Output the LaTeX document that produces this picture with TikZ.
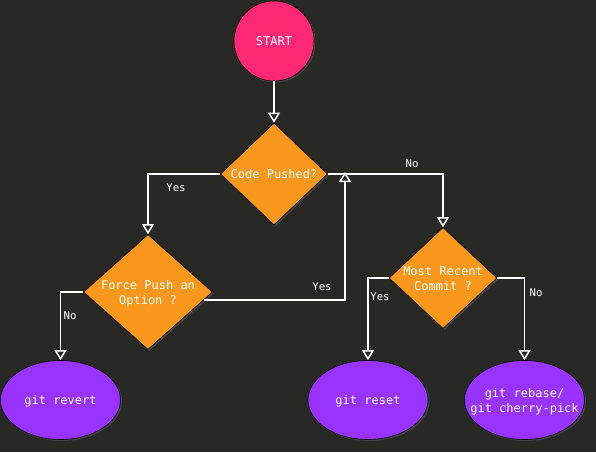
\documentclass[tikz,border=0pt]{standalone}
\usepackage{fontspec}
\newfontfamily\monofont{DejaVu Sans Mono}
\usetikzlibrary{shapes.geometric,arrows.meta,shadows}
\definecolor{bgc}{RGB}{40,40,36}
\definecolor{startc}{RGB}{255,40,117}
\definecolor{orangec}{RGB}{250,152,30}
\definecolor{purplec}{RGB}{153,51,255}
\definecolor{shadowc}{RGB}{120,120,135}
\newcommand{\fixedtext}[1]{\makebox[0pt][c]{\raisebox{-5pt}[0pt][0pt]{\begin{tabular}{@{}c@{}}#1\end{tabular}}}}
\begin{document}
\begin{tikzpicture}[x=1pt,y=-1pt,
  base/.style={draw=black, line width=0.6pt, text=white,
    font=\monofont\fontsize{12}{14.3}\selectfont, align=center,
    general shadow={fill=shadowc, opacity=0.35, shadow xshift=1.5pt, shadow yshift=-1.5pt}},
  startnode/.style={base, circle, fill=startc, minimum size=80pt, inner sep=0pt},
  decision/.style={base, diamond, fill=orangec, inner sep=0pt},
  terminal/.style={base, ellipse, fill=purplec, minimum width=120pt, minimum height=79pt, inner sep=0pt},
  conn/.style={draw=white, line width=1.9pt, -{Triangle[open, width=12pt, length=10pt, line width=1.5pt]}},
  lbl/.style={text=white, font=\monofont\fontsize{10.7}{12}\selectfont, inner sep=0pt}]
\fill[bgc] (0,0) rectangle (596,452);
\useasboundingbox (0,0) rectangle (596,452);

\node[startnode] (start) at (274,41) {\fixedtext{START}};
\node[decision, minimum width=107pt, minimum height=102pt] (cp) at (274,174) {\fixedtext{Code Pushed?}};
\node[decision, minimum width=129pt, minimum height=115pt] (fp) at (148,292) {\fixedtext{Force Push an\\Option ?}};
\node[decision, minimum width=108pt, minimum height=101pt] (mr) at (443,278) {\fixedtext{Most Recent\\Commit ?}};
\node[terminal] (revert) at (60.5,400) {\fixedtext{git revert}};
\node[terminal] (reset) at (368,400) {\fixedtext{git reset}};
\node[terminal] (rebase) at (524.5,400) {\fixedtext{git rebase/\\git cherry-pick}};
\coordinate (join) at (345,172);

\draw[conn] (start.south) -- (cp.north);
\draw[conn] (cp.west) -| (fp.north);
\draw[conn] (cp.east) -| (mr.north);
\draw[conn] (fp.-8) -| (join);
\draw[conn] (fp.west) -| (revert.north);
\draw[conn] (mr.west) -| (reset.north);
\draw[conn] (mr.east) -| (rebase.north);

\node[lbl] (l1) at (176,188) {Yes};
\node[lbl] (l2) at (412,164) {No};
\node[lbl] (l3) at (322,287) {Yes};
\node[lbl] (l4) at (70,316) {No};
\node[lbl] (l5) at (380,297) {Yes};
\node[lbl] (l6) at (536,293) {No};
\end{tikzpicture}
\end{document}
